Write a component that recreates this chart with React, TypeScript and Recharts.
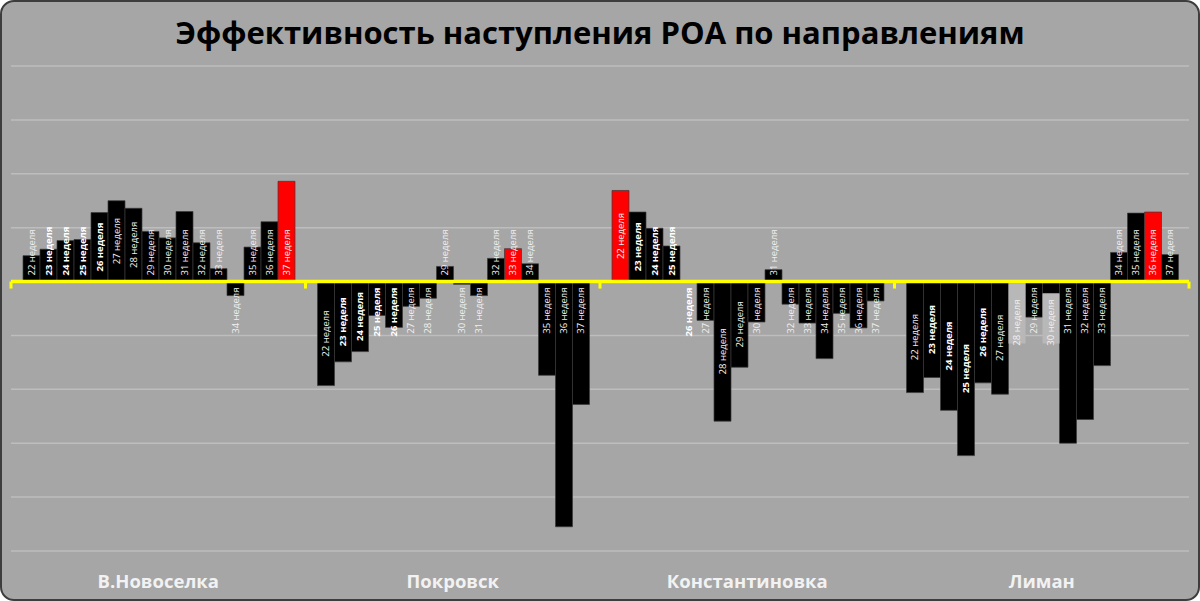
import React from 'react';
import { BarChart, Bar, XAxis, YAxis, CartesianGrid, ReferenceLine, Cell, LabelList } from 'recharts';

// Directions (categories) and weeks (one series per week)
const directions = ['В.Новоселка', 'Покровск', 'Константиновка', 'Лиман'];
const weeks = [22, 23, 24, 25, 26, 27, 28, 29, 30, 31, 32, 33, 34, 35, 36, 37];

// Values per direction, one per week (22..37)
const novoselka = [4.8, 6.0, 7.6, 7.8, 12.8, 15.0, 13.6, 9.3, 8.1, 13.0, 7.2, 2.4, -2.6, 6.4, 11.1, 18.6];
const pokrovsk = [-19.3, -14.9, -13.0, -6.3, -8.5, -4.6, -3.1, 2.8, -0.5, -2.6, 4.3, 6.1, 3.3, -17.4, -45.5, -22.8];
const konstantinovka = [16.9, 12.9, 9.9, 6.6, -0.1, -7.2, -25.9, -15.9, -7.5, 2.2, -4.2, -7.7, -14.3, -5.9, -8.6, -3.6];
const liman = [-20.6, -17.8, -23.9, -32.3, -18.8, -20.9, -0.1, -6.6, -2.2, -30.0, -25.6, -15.6, 5.4, 12.7, 12.9, 5.0];

// Week highlighted in red for each direction
const redWeeks = [37, 33, 22, 36];
// Weeks whose labels are bold
const boldWeeks = [23, 24, 25, 26];
// Weeks whose labels sit in the middle of the bar (others sit at the base)
const centerWeeks = [22, 23, 24, 25, 26, 27, 28, 29, 30];
// Labels drawn on a light box: [direction index, week]
const boxedLabels = [[3, 28], [3, 30]];

const yTicks = [-50, -40, -30, -20, -10, 0, 10, 20, 30, 40];

const series = [novoselka, pokrovsk, konstantinovka, liman];
const data = directions.map((name, i) => {
  const row: any = { name };
  weeks.forEach((w, j) => {
    row[`w${w}`] = series[i][j];
  });
  return row;
});

const FONT = '"Open Sans", sans-serif';

const makeLabel = (week: number) => (props: any) => {
  const { x, y, width, height, value, index } = props;
  const v = Number(value);
  const top = Math.min(y, y + height);
  const bottom = Math.max(y, y + height);
  const cx = x + width / 2;
  const zero = v > 0 ? bottom : top;
  const end = v > 0 ? top : bottom;
  const len = bottom - top;
  const bold = boldWeeks.includes(week);
  const boxed = boxedLabels.some(([d, w]) => d === index && w === week);

  let anchor = 'middle';
  let ty = (top + bottom) / 2;
  if (boxed) {
    ty = zero + 41;
  } else if (!(centerWeeks.includes(week) && len > 54)) {
    if (v > 0) {
      anchor = 'start';
      ty = zero - 6;
    } else {
      anchor = 'end';
      ty = zero + 6;
    }
  }
  const boxTop = Math.max(end, zero + 1.5);

  return (
    <g>
      {boxed && <rect x={x} y={boxTop} width={width} height={zero + 62 - boxTop} fill="#b8b8b8" />}
      <text
        x={cx}
        y={ty}
        transform={`rotate(-90, ${cx}, ${ty})`}
        textAnchor={anchor}
        dominantBaseline="central"
        fill={bold ? '#ffffff' : '#f0f0f0'}
        fontSize={9.5}
        fontWeight={bold ? 700 : 400}
        fontFamily={FONT}
      >
        {`${week} неделя`}
      </text>
    </g>
  );
};

// Yellow zero line with small ticks between directions
const ZeroLine = (props: any) => {
  const { x1, y1, x2 } = props;
  const step = (x2 - x1) / directions.length;
  const marks = directions.map((_, i) => x1 + step * i).concat([x2]);
  return (
    <g>
      <line x1={x1} y1={y1} x2={x2} y2={y1} stroke="#ffff00" strokeWidth={3.5} />
      {marks.map((mx, i) => (
        <line key={i} x1={mx} y1={y1} x2={mx} y2={y1 + 7} stroke="#ffff00" strokeWidth={3} />
      ))}
    </g>
  );
};

export default function App() {
  return (
    <div style={{ position: 'absolute', left: 0, top: 0, width: 1200, height: 601, background: '#ffffff' }}>
      <div
        style={{
          position: 'absolute',
          left: 0,
          top: 0,
          width: 1200,
          height: 601,
          boxSizing: 'border-box',
          border: '2px solid #3d3d3d',
          borderRadius: 14,
          background: '#a6a6a6',
        }}
      />
      <div
        style={{
          position: 'absolute',
          left: 0,
          top: 13,
          width: 1200,
          textAlign: 'center',
          fontFamily: FONT,
          fontWeight: 700,
          fontSize: 31,
          lineHeight: '38px',
          color: '#000000',
        }}
      >
        Эффективность наступления РОА по направлениям
      </div>
      <div style={{ position: 'absolute', left: 0, top: 0 }}>
        <BarChart
          width={1200}
          height={601}
          data={data}
          margin={{ top: 66, right: 11, left: 11, bottom: 10 }}
          barCategoryGap={12}
          barGap={0}
        >
          <CartesianGrid vertical={false} stroke="#bdbdbd" strokeWidth={1.5} />
          <YAxis hide domain={[-50, 40]} ticks={yTicks} allowDataOverflow />
          <XAxis
            dataKey="name"
            axisLine={false}
            tickLine={false}
            height={40}
            tickMargin={18}
            tick={{ fill: '#f2f2f2', fontSize: 18.5, fontWeight: 700, fontFamily: FONT }}
          />
          {weeks.map((w) => (
            <Bar key={w} dataKey={`w${w}`} isAnimationActive={false} stroke="#3a3a3a" strokeWidth={0.7}>
              {directions.map((d, i) => (
                <Cell key={d} fill={redWeeks[i] === w ? '#ff0000' : '#000000'} />
              ))}
              <LabelList dataKey={`w${w}`} content={makeLabel(w)} />
            </Bar>
          ))}
          <ReferenceLine y={0} shape={<ZeroLine />} />
        </BarChart>
      </div>
    </div>
  );
}
